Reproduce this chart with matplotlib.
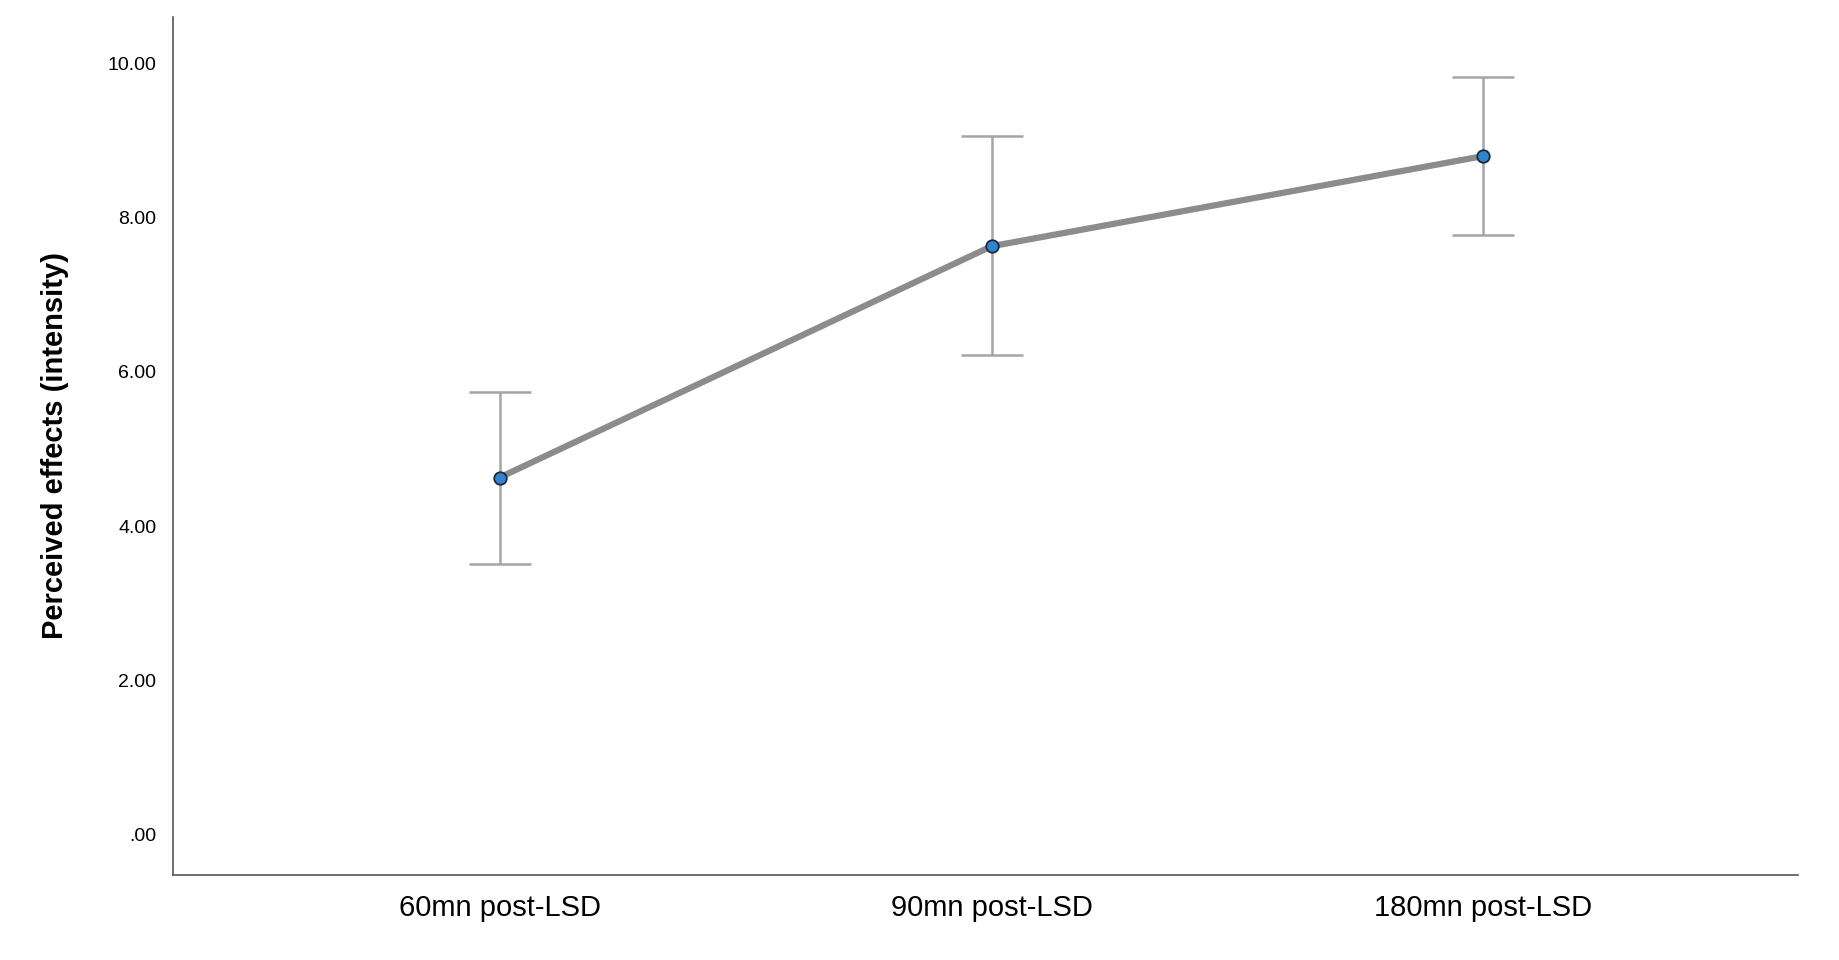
import matplotlib
matplotlib.use('Agg')
import matplotlib.pyplot as plt

plt.rcParams['font.family'] = ['Liberation Sans', 'DejaVu Sans']

labels = ['60mn post-LSD', '90mn post-LSD', '180mn post-LSD']
means = [4.63, 7.63, 8.80]
upper = [5.74, 9.06, 9.82]
lower = [3.51, 6.22, 7.78]

x = list(range(len(labels)))
yerr = [[m - lo for m, lo in zip(means, lower)],
        [hi - m for m, hi in zip(means, upper)]]

fig = plt.figure(figsize=[18.4, 9.6], dpi=100)
ax = fig.add_axes([0.094, 0.089, 0.89 * 0.9925, 0.893])

ax.errorbar(x, means, yerr=yerr, fmt='none', ecolor='#a8a4a6', elinewidth=1.8,
            capsize=22, capthick=1.8, zorder=1)
ax.plot(x, means, color='#8c8c8c', lw=4.5, zorder=2)
ax.plot(x, means, 'o', ms=9, mfc='#2f86d0', mec='#1e2a3a', mew=1.3, zorder=3)

ax.set_xlim(-0.664, 2.64)
ax.set_ylim(-0.52, 10.6)
ax.set_xticks(x)
ax.set_xticklabels(labels, fontsize=21)
ax.set_yticks([0, 2, 4, 6, 8, 10])
ax.set_yticklabels(['.00', '2.00', '4.00', '6.00', '8.00', '10.00'], fontsize=14)
ax.tick_params(length=0, pad=12)
ax.tick_params(axis='x', pad=14)
ax.set_ylabel('Perceived effects (intensity)', fontsize=21, fontweight='bold', labelpad=28)

for s in ['top', 'right']:
    ax.spines[s].set_visible(False)
for s in ['left', 'bottom']:
    ax.spines[s].set_color('#555555')
    ax.spines[s].set_linewidth(1.2)

fig.savefig('out.png', dpi=100)
